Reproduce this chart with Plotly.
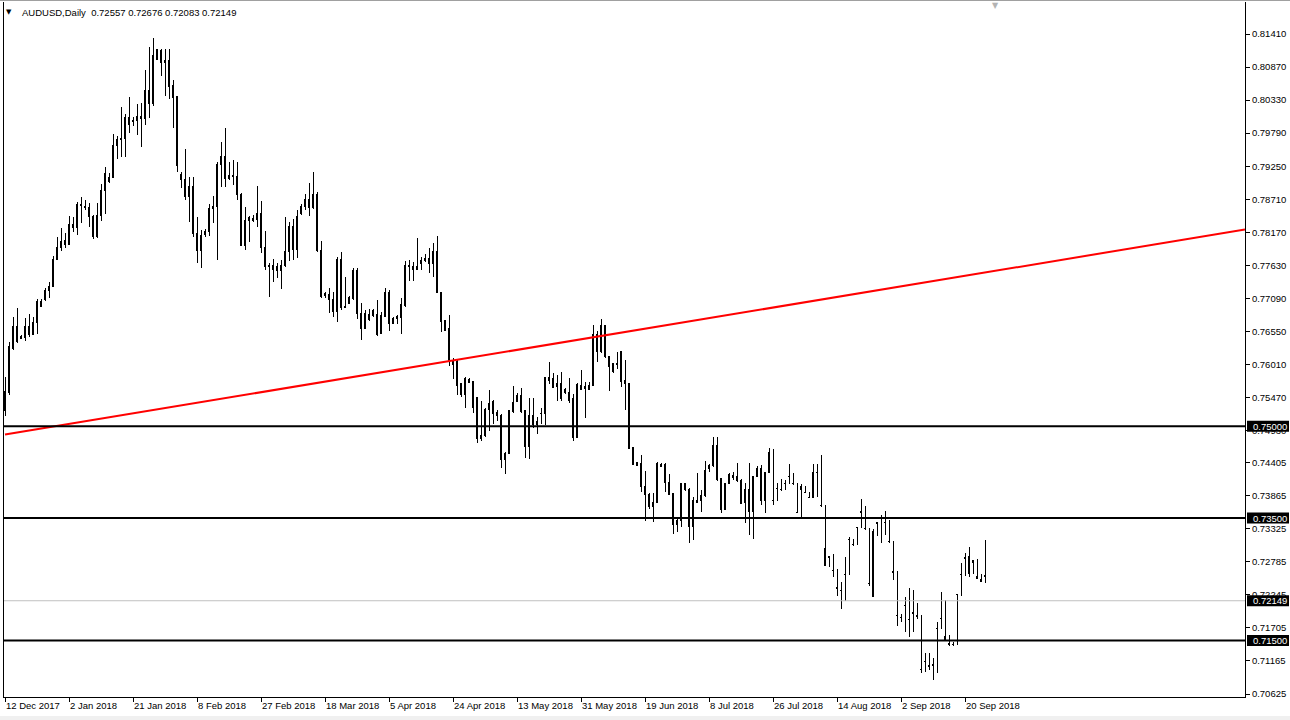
import plotly.graph_objects as go

# ---- Daily AUDUSD bars (12 Dec 2017 .. 27 Sep 2018) ----
opens = [0.75265,0.75549,0.76273,0.76638,0.76464,0.76453,0.76638,0.76502,0.76698,0.77047,
 0.77074,0.77226,0.77292,0.77727,0.77924,0.78043,0.77973,0.78299,0.78250,0.78632,
 0.78599,0.78577,0.78436,0.78098,0.78446,0.78855,0.78997,0.79067,0.79590,0.79705,
 0.79705,0.80048,0.80004,0.79993,0.80070,0.80032,0.80495,0.80277,0.80996,0.81148,
 0.80947,0.80985,0.80576,0.80386,0.79122,0.79040,0.78751,0.78926,0.78152,0.77869,
 0.78131,0.78180,0.78561,0.78599,0.79285,0.79416,0.79051,0.79106,0.79078,0.78795,
 0.77962,0.78359,0.78397,0.78381,0.78479,0.77924,0.77635,0.77635,0.77608,0.77542,
 0.77635,0.77853,0.78261,0.77891,0.78479,0.78588,0.78708,0.78577,0.78795,0.77880,
 0.77172,0.77161,0.77074,0.76872,0.77727,0.76965,0.77008,0.77080,0.77543,0.76846,
 0.76600,0.76829,0.76807,0.76829,0.76519,0.76802,0.77189,0.76677,0.76791,0.76780,
 0.76971,0.77635,0.77619,0.77565,0.77663,0.77706,0.77744,0.77663,0.77864,0.77189,
 0.76726,0.76590,0.76012,0.76056,0.75691,0.75522,0.75772,0.75729,0.75467,0.74803,
 0.74846,0.75277,0.75413,0.75228,0.75184,0.74460,0.74558,0.75239,0.75402,0.75495,
 0.75250,0.74667,0.75037,0.75037,0.75211,0.75211,0.75800,0.75783,0.75647,0.75702,
 0.75593,0.75555,0.75446,0.74819,0.75604,0.75620,0.75609,0.75674,0.76502,0.76219,
 0.76639,0.76137,0.75892,0.76028,0.76219,0.75740,0.75691,0.74650,0.74405,0.74394,
 0.74024,0.73893,0.73697,0.73752,0.74340,0.74383,0.74084,0.73904,0.73387,0.73457,
 0.74068,0.73970,0.73359,0.73784,0.73784,0.73861,0.74313,0.74367,0.74694,0.74149,
 0.73643,0.74068,0.74193,0.74176,0.74122,0.73757,0.73975,0.73605,0.74187,0.74313,
 0.73784,0.74247,0.73795,0.73986,0.73970,0.74068,0.74187,0.74057,0.73594,0.73959,
 0.73920,0.73839,0.73839,0.74247,0.73703,0.72717,0.72880,0.72651,0.72368,0.72324,
 0.72580,0.73142,0.73071,0.73349,0.73615,0.73332,0.72433,0.72223,0.73414,0.73496,
 0.73425,0.73114,0.72624,0.71905,0.71878,0.72079,0.71845,0.71943,0.71900,0.71028,
 0.71153,0.71083,0.71083,0.71698,0.71861,0.71562,0.71453,0.71437,0.72243,0.72580,
 0.72858,0.72597,0.72804,0.72553,0.72461,0.72557]
highs = [0.75810,0.76382,0.76780,0.76927,0.76491,0.76763,0.76829,0.76791,0.77074,0.77074,
 0.77254,0.77363,0.77782,0.78087,0.78234,0.78152,0.78436,0.78425,0.78670,0.78751,
 0.78697,0.78653,0.78452,0.78643,0.78958,0.79242,0.79133,0.79776,0.79743,0.80222,
 0.80102,0.80386,0.80048,0.80266,0.80288,0.80821,0.81192,0.81339,0.81159,0.81159,
 0.81159,0.81159,0.80658,0.80396,0.79160,0.79530,0.79078,0.79078,0.78414,0.78207,
 0.78218,0.78632,0.78768,0.79323,0.79650,0.79868,0.79323,0.79351,0.79323,0.78806,
 0.78588,0.78441,0.78452,0.78926,0.78681,0.78190,0.77673,0.77727,0.77673,0.77717,
 0.78414,0.78343,0.78381,0.78534,0.78632,0.78795,0.78969,0.79160,0.78833,0.78032,
 0.77188,0.77254,0.77199,0.77771,0.77853,0.77444,0.77128,0.77581,0.77581,0.77009,
 0.76900,0.76916,0.76911,0.77063,0.76862,0.77265,0.77227,0.76780,0.76818,0.77091,
 0.77701,0.77717,0.77690,0.78082,0.77772,0.77810,0.77908,0.77989,0.78115,0.77200,
 0.76737,0.76818,0.76110,0.76083,0.75702,0.75811,0.75783,0.75740,0.75484,0.75413,
 0.75293,0.75593,0.75429,0.75266,0.75195,0.74585,0.75266,0.75658,0.75538,0.75631,
 0.75260,0.75467,0.75467,0.75157,0.75304,0.75811,0.76056,0.75865,0.75838,0.75881,
 0.75620,0.75794,0.75522,0.75702,0.75920,0.75718,0.75729,0.76655,0.76557,0.76747,
 0.76655,0.76148,0.76039,0.76219,0.76230,0.76083,0.75702,0.74660,0.74422,0.74531,
 0.74269,0.73904,0.73915,0.74422,0.74405,0.74394,0.74220,0.73915,0.73496,0.74078,
 0.74078,0.73986,0.73839,0.74242,0.73959,0.74432,0.74383,0.74830,0.74830,0.74160,
 0.74078,0.74242,0.74258,0.74405,0.74133,0.74068,0.74394,0.74187,0.74351,0.74367,
 0.74258,0.74639,0.74623,0.74068,0.74133,0.74122,0.74383,0.74231,0.74068,0.74057,
 0.74024,0.73931,0.74383,0.74383,0.74531,0.73714,0.72880,0.72913,0.72662,0.72461,
 0.72858,0.73185,0.73152,0.73359,0.73806,0.73697,0.73343,0.73316,0.73441,0.73550,
 0.73615,0.73468,0.73125,0.72635,0.71932,0.72216,0.72363,0.72324,0.72107,0.71916,
 0.71300,0.71300,0.71208,0.71807,0.72297,0.72161,0.71589,0.71480,0.72254,0.72760,
 0.72924,0.73033,0.72787,0.72826,0.72586,0.73142,0.72676]
lows = [0.75167,0.75511,0.76246,0.76355,0.76420,0.76398,0.76453,0.76491,0.76507,0.76943,
 0.77052,0.77101,0.77281,0.77717,0.77869,0.77907,0.77962,0.78180,0.78125,0.78327,
 0.78534,0.78250,0.78054,0.78071,0.78359,0.78463,0.78980,0.79062,0.79362,0.79394,
 0.79405,0.79786,0.79906,0.79759,0.79558,0.79923,0.80032,0.80233,0.80985,0.80729,
 0.80402,0.80342,0.79868,0.79160,0.78888,0.78697,0.78343,0.78098,0.77662,0.77580,
 0.78098,0.78109,0.78316,0.77717,0.78915,0.78915,0.79024,0.78942,0.78697,0.77945,
 0.77880,0.78016,0.78343,0.78250,0.77836,0.77553,0.77117,0.77363,0.77417,0.77237,
 0.77597,0.77706,0.77717,0.77744,0.78452,0.78534,0.78436,0.78545,0.77853,0.77090,
 0.77101,0.76856,0.76780,0.76709,0.76900,0.76927,0.76998,0.77063,0.76747,0.76410,
 0.76590,0.76720,0.76791,0.76481,0.76502,0.76791,0.76557,0.76666,0.76666,0.76502,
 0.76954,0.77374,0.77374,0.77554,0.77554,0.77679,0.77510,0.77445,0.77172,0.76535,
 0.76557,0.75990,0.75772,0.75511,0.75484,0.75304,0.75702,0.75211,0.74721,0.74759,
 0.74830,0.74923,0.75032,0.75086,0.74324,0.74215,0.74541,0.75211,0.75391,0.75211,
 0.74476,0.74465,0.74966,0.74868,0.75032,0.75021,0.75685,0.75620,0.75418,0.75418,
 0.75522,0.75375,0.74759,0.74803,0.75593,0.75130,0.75593,0.75664,0.76050,0.76203,
 0.76110,0.75582,0.75876,0.75930,0.75647,0.75266,0.74623,0.74367,0.74351,0.73931,
 0.73457,0.73643,0.73441,0.73741,0.74329,0.73931,0.73877,0.73240,0.73278,0.73349,
 0.73942,0.73098,0.73142,0.73741,0.73605,0.73850,0.74258,0.74340,0.74111,0.73588,
 0.73632,0.74057,0.74122,0.74095,0.73724,0.73414,0.73223,0.73152,0.74176,0.73714,
 0.73588,0.74231,0.73714,0.73784,0.73942,0.73959,0.74057,0.74040,0.73577,0.73479,
 0.73904,0.73822,0.73822,0.73850,0.73686,0.72787,0.72695,0.72542,0.72226,0.72009,
 0.72150,0.72570,0.73049,0.73060,0.73332,0.73305,0.72390,0.72368,0.73207,0.73087,
 0.73223,0.73087,0.72488,0.71736,0.71807,0.71644,0.71562,0.71644,0.71845,0.70974,
 0.70990,0.71017,0.70854,0.70963,0.71682,0.71497,0.71415,0.71409,0.71426,0.72226,
 0.72553,0.72542,0.72580,0.72499,0.72461,0.72433,0.72083]
closes = [0.75565,0.76300,0.76638,0.76382,0.76437,0.76638,0.76507,0.76698,0.77047,0.76954,
 0.77226,0.77292,0.77727,0.77924,0.78027,0.77973,0.78299,0.78250,0.78632,0.78604,
 0.78572,0.78425,0.78098,0.78446,0.78855,0.79133,0.79067,0.79590,0.79694,0.79688,
 0.80048,0.79933,0.79988,0.80070,0.80032,0.80495,0.80277,0.81066,0.81159,0.80947,
 0.80985,0.80560,0.80369,0.79258,0.79035,0.78751,0.78926,0.78152,0.77869,0.78125,
 0.78190,0.78561,0.78599,0.79285,0.79416,0.79051,0.79106,0.79078,0.78790,0.77951,
 0.78370,0.78414,0.78359,0.78479,0.77918,0.77608,0.77608,0.77564,0.77542,0.77635,
 0.77853,0.78261,0.77891,0.78436,0.78588,0.78708,0.78577,0.78795,0.77869,0.77117,
 0.77145,0.77074,0.76872,0.77727,0.76943,0.76938,0.77101,0.77543,0.76846,0.76600,
 0.76846,0.76747,0.76900,0.76502,0.76807,0.77189,0.76682,0.76764,0.76764,0.76982,
 0.77635,0.77608,0.77565,0.77619,0.77717,0.77744,0.77663,0.77864,0.77183,0.76709,
 0.76573,0.76056,0.76067,0.75674,0.75527,0.75783,0.75718,0.75304,0.74803,0.74857,
 0.75282,0.75364,0.75211,0.75173,0.74460,0.74558,0.75250,0.75391,0.75495,0.75239,
 0.74667,0.75168,0.75168,0.75086,0.75206,0.75800,0.75756,0.75631,0.75691,0.75446,
 0.75555,0.75429,0.74819,0.75685,0.75674,0.75658,0.75674,0.76502,0.76219,0.76639,
 0.76137,0.75974,0.76018,0.76012,0.75729,0.75691,0.74639,0.74383,0.74367,0.74013,
 0.73877,0.73697,0.73757,0.74394,0.74383,0.74078,0.73893,0.73387,0.73468,0.74057,
 0.73959,0.73359,0.73779,0.73752,0.73861,0.74285,0.74367,0.74694,0.74138,0.73632,
 0.74057,0.74220,0.74166,0.74111,0.73741,0.73975,0.73605,0.74176,0.74313,0.73784,
 0.74247,0.74574,0.73784,0.73986,0.73959,0.74068,0.74187,0.74057,0.73594,0.74024,
 0.73915,0.73839,0.74247,0.74247,0.73703,0.73005,0.72858,0.72640,0.72352,0.72324,
 0.72580,0.73142,0.73060,0.73349,0.73594,0.73332,0.72423,0.73278,0.73425,0.73496,
 0.73425,0.73114,0.72608,0.71900,0.71878,0.72079,0.71845,0.71954,0.71889,0.71028,
 0.71153,0.71072,0.71099,0.71698,0.71861,0.71507,0.71426,0.71426,0.72243,0.72580,
 0.72842,0.72880,0.72771,0.72515,0.72499,0.72553,0.72149]

date_labels = ["12 Dec 2017", "2 Jan 2018", "21 Jan 2018", "8 Feb 2018", "27 Feb 2018",
               "18 Mar 2018", "5 Apr 2018", "24 Apr 2018", "13 May 2018", "31 May 2018",
               "19 Jun 2018", "8 Jul 2018", "26 Jul 2018", "14 Aug 2018", "2 Sep 2018",
               "20 Sep 2018"]
bars_per_label = 16

price_ticks = [0.81410, 0.80870, 0.80330, 0.79790, 0.79250, 0.78710, 0.78170, 0.77630,
               0.77090, 0.76550, 0.76010, 0.75470, 0.74930, 0.74405, 0.73865, 0.73325,
               0.72785, 0.72245, 0.71705, 0.71165, 0.70625]
level_prices = [0.75000, 0.73500, 0.71500]
bid_price = 0.72149
trend_bars = [0, 310]
trend_prices = [0.74865, 0.78215]

symbol = "AUDUSD,Daily"

# ---------------------------------------------------------------------------
W, H = 1290, 720
L_M, R_M, T_M, B_M = 4, 45, 2, 23
PW = W - L_M - R_M
PH = H - T_M - B_M
FONT = "Liberation Sans, Arial, sans-serif"
FS = 9.5
Y_RANGE = [0.70576, 0.81933]

n = len(opens)
xs = list(range(n))

fig = go.Figure()
fig.add_trace(go.Candlestick(
    x=xs, open=opens, high=highs, low=lows, close=closes,
    increasing=dict(line=dict(color="black", width=1), fillcolor="white"),
    decreasing=dict(line=dict(color="black", width=1), fillcolor="black"),
    whiskerwidth=0, showlegend=False, hoverinfo="skip"))

fig.add_trace(go.Scatter(x=trend_bars, y=trend_prices, mode="lines",
                         line=dict(color="#ff0000", width=2),
                         showlegend=False, hoverinfo="skip"))

shapes = []
shapes.append(dict(type="line", xref="paper", yref="y", x0=0, x1=1,
                   y0=bid_price, y1=bid_price, line=dict(color="#c0c0c0", width=1),
                   layer="above"))
for p in level_prices:
    shapes.append(dict(type="line", xref="paper", yref="y", x0=0, x1=1, y0=p, y1=p,
                       line=dict(color="black", width=2), layer="above"))

annotations = []
half_box = 5.5 / PH * (Y_RANGE[1] - Y_RANGE[0])
for p in level_prices + [bid_price]:
    shapes.append(dict(type="rect", xref="paper", yref="y",
                       x0=1 + 2 / PW, x1=1 + 44 / PW, y0=p - half_box, y1=p + half_box,
                       fillcolor="black", line=dict(width=0), layer="above"))
    annotations.append(dict(xref="paper", yref="y", x=1 + 6 / PW, y=p, text=f"{p:.5f}",
                            showarrow=False, xanchor="left", yanchor="middle",
                            font=dict(family=FONT, size=FS, color="white")))

# window edges
shapes.append(dict(type="line", xref="paper", yref="paper",
                   x0=-L_M / PW, x1=1 + R_M / PW, y0=1 + (T_M - 0.5) / PH, y1=1 + (T_M - 0.5) / PH,
                   line=dict(color="#a0a0a0", width=1), layer="above"))
shapes.append(dict(type="rect", xref="paper", yref="paper",
                   x0=-L_M / PW, x1=1 + R_M / PW, y0=-(B_M) / PH, y1=-(B_M - 4) / PH,
                   fillcolor="#f0f0f0", line=dict(width=0), layer="above"))

# header
header = (f"{symbol}\u00a0\u00a0{opens[-1]:.5f} {highs[-1]:.5f} "
          f"{lows[-1]:.5f} {closes[-1]:.5f}")
annotations.append(dict(xref="paper", yref="paper", x=(20 - L_M) / PW,
                        y=1 - (12 - T_M) / PH, text=header, showarrow=False,
                        xanchor="left", yanchor="middle",
                        font=dict(family=FONT, size=FS, color="black")))
annotations.append(dict(xref="paper", yref="paper", x=(9 - L_M) / PW,
                        y=1 - (12 - T_M) / PH, text="\u25bc", showarrow=False,
                        xanchor="center", yanchor="middle",
                        font=dict(family="DejaVu Sans", size=7, color="black")))
annotations.append(dict(xref="paper", yref="paper", x=(995 - L_M) / PW,
                        y=1 - (5 - T_M) / PH, text="\u25bc", showarrow=False,
                        xanchor="center", yanchor="middle",
                        font=dict(family="DejaVu Sans", size=8, color="#b4b4b4")))

fig.update_layout(
    width=W, height=H,
    margin=dict(l=L_M, r=R_M, t=T_M, b=B_M, pad=0, autoexpand=False),
    paper_bgcolor="white", plot_bgcolor="white",
    boxgap=0.35,
    shapes=shapes, annotations=annotations,
    showlegend=False,
)
fig.update_xaxes(
    range=[-0.25, (PW / 4.0) - 0.25],
    rangeslider=dict(visible=False),
    automargin=False,
    tickmode="array",
    tickvals=[i * bars_per_label for i in range(len(date_labels))],
    ticktext=date_labels,
    tickangle=0,
    ticklabelposition="outside right",
    ticks="outside", ticklen=4, tickcolor="black", tickwidth=1,
    showgrid=False, zeroline=False,
    showline=True, linecolor="black", linewidth=1,
    tickfont=dict(family=FONT, size=FS, color="black"),
)
fig.update_yaxes(
    range=Y_RANGE,
    side="right",
    automargin=False,
    tickmode="array",
    tickvals=price_ticks,
    ticktext=[f"{v:.5f}" for v in price_ticks],
    ticks="outside", ticklen=4, tickcolor="black", tickwidth=1,
    showgrid=False, zeroline=False,
    showline=True, mirror=True, linecolor="black", linewidth=1,
    tickfont=dict(family=FONT, size=FS, color="black"),
)

fig.write_html("out.html",
               config={"displayModeBar": False},
               post_script="document.body.style.margin='0px';"
                           "document.body.style.overflow='hidden';"
                           "document.querySelectorAll('.trace.boxes path').forEach("
                           "function(p){p.style.shapeRendering='crispEdges';});")
